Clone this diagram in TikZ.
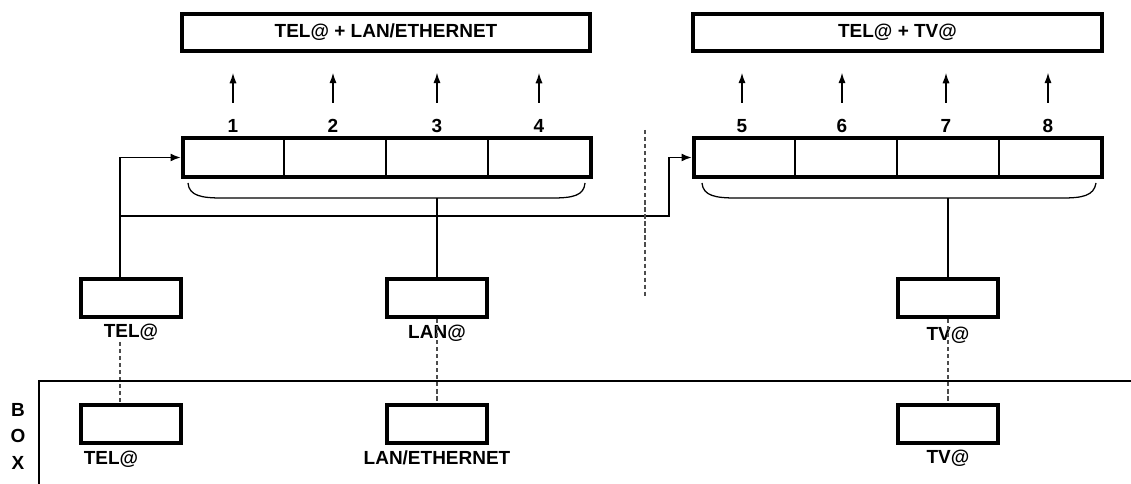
\documentclass[tikz,border=0pt]{standalone}
\usepackage{fontspec}
\setmainfont{Liberation Sans}
\usetikzlibrary{arrows.meta}
\tikzset{
	wide/.style={draw, line width=2.8pt, minimum width=10.2cm, minimum height=0.93cm, inner sep=0pt, font=\bfseries\fontsize{13.5}{15}\selectfont},
	strip/.style={draw, line width=2.8pt, minimum width=10.2cm, minimum height=0.98cm, inner sep=0pt},
	box/.style={draw, line width=2.8pt, minimum width=2.5cm, minimum height=0.95cm, inner sep=0pt},
	lbl/.style={font=\bfseries\fontsize{13.5}{15}\selectfont, inner sep=1pt},
	wire/.style={line width=1.4pt},
	curl/.style={line width=0.9pt},
	feed/.style={line width=1.4pt, -{Latex[length=2.6mm,width=2mm]}},
	port/.style={line width=1pt, -{Latex[length=2.6mm,width=1.8mm]}},
	link/.style={gray!60!black, line width=0.8pt, dash pattern=on 3pt off 2pt},
}
\begin{document}
\begin{tikzpicture}[x=0.025cm, y=-0.025cm]
\useasboundingbox (0,0) rectangle (1131,484);
% outputs
\node[wide] (outA) at (386,32.5) {TEL@ + LAN/ETHERNET};
\node[wide] (outB) at (897.5,32.5) {TEL@ + TV@};
% port strips
\node[strip] (portsA) at (387,157.5) {};
\node[strip] (portsB) at (898,157.5) {};
\foreach \x in {284,386,488,795,897,999}
	\draw[wire] (\x,137) -- (\x,178);
\foreach \n/\x in {1/233,2/333,3/437,4/539,5/742,6/842,7/946,8/1048}{
	\node[lbl] (p\n) at (\x,126) {\n};
	\draw[port] ([yshift=10.6pt]p\n.north) -- ++(0,-30);
}
% brackets under the strips
\coordinate (jA) at (437,198);
\coordinate (jB) at (948,198);
\draw[curl] (188,183) .. controls (189,196) and (202,198) .. (222,198) -- (552,198) .. controls (572,198) and (584,196) .. (585,183);
\draw[curl] (702,183) .. controls (703,196) and (716,198) .. (736,198) -- (1062,198) .. controls (1082,198) and (1094,196) .. (1096,183);
% sources
\node[box] (telU) at (131,298) {};
\node[lbl] (telUl) at (131,332) {TEL@};
\node[box] (lanU) at (437,298) {};
\node[lbl] (lanUl) at (437,333) {LAN@};
\node[box] (tvU) at (948,298) {};
\node[lbl] (tvUl) at (948,335) {TV@};
% box side
\node[box] (telD) at (131,424) {};
\node[lbl] (telDl) at (111,459) {TEL@};
\node[box] (lanD) at (437,424) {};
\node[lbl] (lanDl) at (437,458) {LAN/ETHERNET};
\node[box] (tvD) at (948,424) {};
\node[lbl] (tvDl) at (948,458) {TV@};
% wiring
\coordinate (tap) at (120,216);
\coordinate (turn) at (669,216);
\draw[feed] (telU.north -| tap) |- (portsA.west);
\draw[feed] (tap) -- (turn) |- (portsB.west);
\draw[wire] (lanU.north) -- (jA);
\draw[wire] (tvU.north) -- (jB);
\draw[link] (telUl.south -| tap) -- (telD.north -| tap);
\draw[link] (lanU.south) -- (lanD.north);
\draw[link] (tvU.south) -- (tvD.north);
\draw[link] (645,130) -- (645,296);
% box frame
\draw[wire] (1131,381) -| (39,484);
\foreach \c/\y in {B/410,O/436,X/463}
	\node[lbl] at (18,\y) {\c};
\end{tikzpicture}
\end{document}
